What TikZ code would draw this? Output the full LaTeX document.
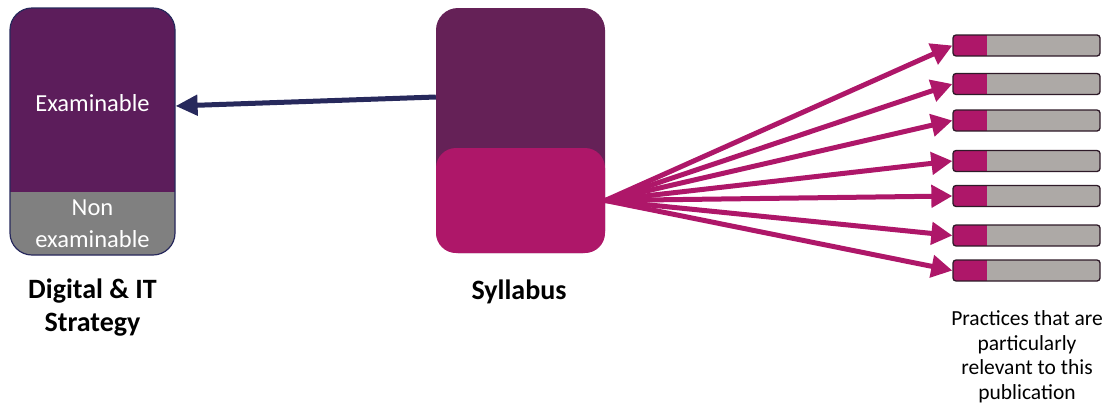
\documentclass[tikz,border=0pt]{standalone}
\usepackage{fontspec}
\setmainfont{Carlito}
\usetikzlibrary{arrows.meta}
\definecolor{digpurple}{HTML}{5C1D5B}
\definecolor{nongray}{HTML}{808080}
\definecolor{sylpurple}{HTML}{652157}
\definecolor{sylpink}{HTML}{AE1769}
\definecolor{bargray}{HTML}{ADA9A6}
\definecolor{bardark}{HTML}{2E1A28}
\definecolor{navy}{HTML}{27295C}
\tikzset{
  boxtext/.style={text=white, font=\fontsize{24.5}{30}\selectfont},
  bigbold/.style={font=\bfseries\fontsize{28}{33}\selectfont, align=center},
  bar/.style={draw=bardark, line width=1.3pt, fill=bargray, rounded corners=3pt,
    minimum width=147pt, minimum height=21pt, inner sep=0pt,
    path picture={\fill[sylpink, sharp corners] (path picture bounding box.south west) rectangle ([xshift=34pt]path picture bounding box.north west);}},
  pinkarrow/.style={draw=sylpink, line width=5pt, -{Triangle[length=21pt,width=22pt]}},
  navyarrow/.style={draw=navy, line width=5pt, -{Triangle[length=22pt,width=20pt]}},
}
\begin{document}
\begin{tikzpicture}[x=1pt,y=-1pt]
\useasboundingbox (0,0) rectangle (1107,405);
% Digital & IT box
\node[draw=navy, line width=1.2pt, fill=digpurple, rounded corners=22pt,
  minimum width=165pt, minimum height=247pt, inner sep=0pt,
  path picture={\fill[nongray, sharp corners] (path picture bounding box.south west) rectangle ([yshift=63pt]path picture bounding box.south east);}]
  (dig) at (92.5,131.5) {};
\node[boxtext] (exam) at (92.5,103) {Examinable};
\node[boxtext] (non) at (92.5,208) {Non};
\node[boxtext] (nonex) at (92.5,239) {examinable};
\node[bigbold] (diglbl) at (92.5,308) {Digital \& IT\\Strategy};
% Syllabus box
\node[fill=sylpurple, rounded corners=22pt, minimum width=169pt, minimum height=245pt, inner sep=0pt]
  (syl) at (520.5,130.5) {};
\node[fill=sylpink, rounded corners=20pt, minimum width=169pt, minimum height=105pt, inner sep=0pt]
  (sylp) at (520.5,200.5) {};
\node[bigbold] (syllbl) at (519,292) {Syllabus};
% arrow to Digital box
\draw[navyarrow] ([yshift=33.5pt]syl.west) -- ([yshift=25.5pt]dig.east);
% bars
\foreach \i/\y in {1/45.5,2/84,3/120.5,4/161,5/196,6/235.5,7/270.5}{
  \node[bar] (b\i) at (1026.5,\y) {};
  \draw[pinkarrow] (sylp.east) -- (b\i.west);
}
\node[align=center, font=\fontsize{21.5}{24.5}\selectfont] (prac) at (1027,357)
  {Practices that are\\particularly\\relevant to this\\publication};
\end{tikzpicture}
\end{document}
